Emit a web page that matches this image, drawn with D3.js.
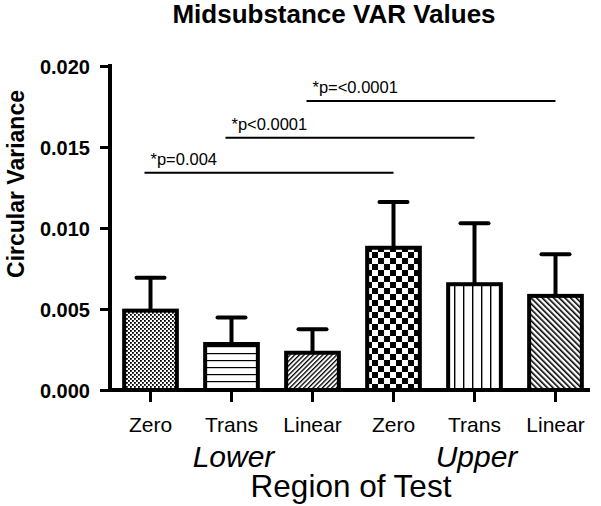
<!DOCTYPE html>
<html><head><meta charset="utf-8">
<script src="https://cdn.jsdelivr.net/npm/d3@7"></script>
<style>body{margin:0;background:#fff}text{font-family:"Liberation Sans",Arial,sans-serif}</style>
</head><body>
<script>
const categories = ["Zero","Trans","Linear","Zero","Trans","Linear"];
const groups = ["Lower","Upper"];
const means = [0.0049,0.00284,0.0023,0.00878,0.00653,0.00581];
const upperErr = [0.00693,0.00448,0.00375,0.0116,0.01029,0.00838];
const patterns = ["dots","hlines","fwd","checker","vlines","back"];
const yTicks = [0,0.005,0.010,0.015,0.020];
const brackets = [
  {from:0,to:3,level:0.01341,label:"*p=0.004"},
  {from:1,to:4,level:0.01557,label:"*p<0.0001"},
  {from:2,to:5,level:0.01784,label:"*p=<0.0001"}
];

const W=601,H=506;
const svg=d3.select("body").append("svg").attr("width",W).attr("height",H);
const defs=svg.append("defs");
function pat(id,w,h){return defs.append("pattern").attr("id",id).attr("patternUnits","userSpaceOnUse").attr("width",w).attr("height",h);}
let p;
p=pat("dots",4,4); p.append("rect").attr("width",4).attr("height",4).attr("fill","#fff");
p.append("rect").attr("x",0).attr("y",0).attr("width",1.8).attr("height",1.8).attr("fill","#000");
p.append("rect").attr("x",2).attr("y",2).attr("width",1.8).attr("height",1.8).attr("fill","#000");
p=pat("hlines",7,7); p.append("rect").attr("width",7).attr("height",7).attr("fill","#fff");
p.append("rect").attr("x",0).attr("y",3).attr("width",7).attr("height",1.2).attr("fill","#000");
p=pat("fwd",3.3,3.3).attr("patternTransform","rotate(45)"); p.append("rect").attr("width",3.3).attr("height",3.3).attr("fill","#fff");
p.append("rect").attr("x",0).attr("y",0).attr("width",1.3).attr("height",3.3).attr("fill","#000");
p=pat("checker",12,12); p.append("rect").attr("width",12).attr("height",12).attr("fill","#fff");
p.append("rect").attr("x",0).attr("y",0).attr("width",6).attr("height",6).attr("fill","#000");
p.append("rect").attr("x",6).attr("y",6).attr("width",6).attr("height",6).attr("fill","#000");
p=pat("vlines",9,9); p.append("rect").attr("width",9).attr("height",9).attr("fill","#fff");
p.append("rect").attr("x",4).attr("y",0).attr("width",1.4).attr("height",9).attr("fill","#000");
p=pat("back",4,4).attr("patternTransform","rotate(-45)"); p.append("rect").attr("width",4).attr("height",4).attr("fill","#fff");
p.append("rect").attr("x",0).attr("y",0).attr("width",1.6).attr("height",4).attr("fill","#000");

const x=d3.scaleBand().domain(d3.range(categories.length)).range([110,596]).paddingInner(0.3).paddingOuter(0.15);
const y=d3.scaleLinear().domain([0,0.02]).range([390,66]);
const cx=i=>x(i)+x.bandwidth()/2;

// title
svg.append("text").attr("x",334).attr("y",23).attr("text-anchor","middle").attr("font-size",26).attr("font-weight","bold").text("Midsubstance VAR Values");

// y axis
const ya=svg.append("g").attr("transform","translate(110,0)").call(d3.axisLeft(y).tickValues(yTicks).tickFormat(d3.format(".3f")).tickSize(10).tickPadding(10));
ya.select(".domain").attr("stroke-width",4).attr("d","M0,392V64");
ya.selectAll(".tick line").attr("stroke-width",3);
ya.selectAll(".tick text").attr("font-size",20).attr("font-weight","bold").attr("fill","#000").attr("dy","0.35em");
svg.append("text").attr("transform","translate(24,184) rotate(-90)").attr("text-anchor","middle").attr("font-size",23).attr("font-weight","bold").text("Circular Variance");

// error bars
const eb=svg.append("g");
means.forEach((m,i)=>{
  eb.append("line").attr("x1",cx(i)).attr("x2",cx(i)).attr("y1",y(m)).attr("y2",y(upperErr[i])).attr("stroke","#000").attr("stroke-width",4);
  eb.append("line").attr("x1",cx(i)-14).attr("x2",cx(i)+14).attr("y1",y(upperErr[i])).attr("y2",y(upperErr[i])).attr("stroke","#000").attr("stroke-width",4).attr("stroke-linecap","round");
});
// bars
svg.append("g").selectAll("rect").data(means).join("rect")
  .attr("x",(d,i)=>x(i)+2).attr("width",x.bandwidth()-4)
  .attr("y",d=>y(d)).attr("height",d=>y(0)-y(d))
  .attr("fill",(d,i)=>`url(#${patterns[i]})`).attr("stroke","#000").attr("stroke-width",4);

// x axis
const xa=svg.append("g").attr("transform","translate(0,390)").call(d3.axisBottom(x).tickFormat(i=>categories[i]).tickSize(12).tickPadding(15));
xa.select(".domain").attr("stroke-width",4).attr("d","M108,0H590");
xa.selectAll(".tick line").attr("stroke-width",3);
xa.selectAll(".tick text").attr("font-size",21).attr("fill","#000");
groups.forEach((g,k)=>{
  svg.append("text").attr("x",cx(k*3+1)+2).attr("y",467).attr("text-anchor","middle").attr("font-size",30).attr("font-style","italic").text(g);
});
svg.append("text").attr("x",351).attr("y",497).attr("text-anchor","middle").attr("font-size",31.5).text("Region of Test");

// significance brackets
const bg=svg.append("g");
brackets.forEach(b=>{
  bg.append("line").attr("x1",cx(b.from)-6).attr("x2",cx(b.to)).attr("y1",y(b.level)).attr("y2",y(b.level)).attr("stroke","#000").attr("stroke-width",2);
  bg.append("text").attr("x",cx(b.from)).attr("y",y(b.level)-8).attr("font-size",16.5).text(b.label);
});
</script>
</body></html>
